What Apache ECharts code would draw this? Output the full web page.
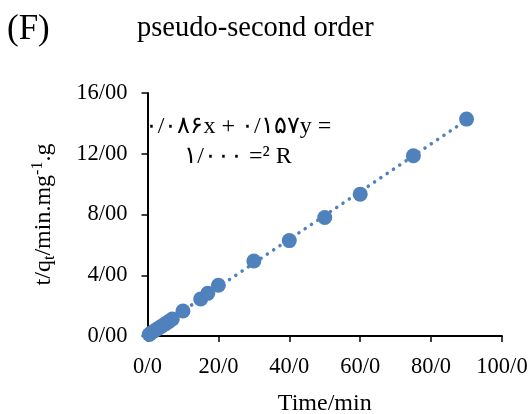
<!DOCTYPE html>
<html><head><meta charset="utf-8">
<script src="https://cdn.jsdelivr.net/npm/echarts@6/dist/echarts.min.js"></script>
<style>html,body{margin:0;padding:0;background:#fff}#c{width:531px;height:414px}</style>
</head><body><div id="c"></div>
<script>
var timeMin = [0.5, 1, 2, 3, 4, 5, 6, 7, 10, 15, 17, 20, 30, 40, 50, 60, 75, 90];
var tOverQ = [0.1, 0.2, 0.35, 0.5, 0.65, 0.8, 0.95, 1.12, 1.65, 2.44, 2.81, 3.34, 4.94, 6.28, 7.80, 9.34, 11.87, 14.28];
var trendCoef = [0.157, 0.086]; // slope, intercept
var trendRange = [0, 90];
var xTickLabels = ['0/0', '20/0', '40/0', '60/0', '80/0', '100/0'];
var yTickLabels = ['0/00', '4/00', '8/00', '12/00', '16/00'];
var eqLine1 = '۰/۰۸۶x + ۰/۱۵۷y =';
var eqLine2 = '۱/۰۰۰ =² R';

var FONT = '"Liberation Serif","Times New Roman",serif';
var COLOR = '#4f81bd';
var pts = timeMin.map(function (t, i) { return [t, tOverQ[i]]; });
var trend = trendRange.map(function (x) { return [x, trendCoef[0] * x + trendCoef[1]]; });

var chart = echarts.init(document.getElementById('c'), null, {renderer: 'canvas'});
chart.setOption({
  animation: false,
  backgroundColor: '#fff',
  grid: {left: 147.5, right: 29, top: 93, bottom: 78, containLabel: false, outerBoundsMode: 'none'},
  xAxis: {
    type: 'value', min: 0, max: 100, interval: 20,
    name: 'Time/min', nameLocation: 'middle', nameGap: 56,
    nameTextStyle: {fontFamily: FONT, fontSize: 24, color: '#000'},
    axisLine: {lineStyle: {color: '#000', width: 2}},
    axisTick: {show: true, length: 6, lineStyle: {color: '#000', width: 1.5}},
    axisLabel: {fontFamily: FONT, fontSize: 22.5, color: '#000', margin: 20,
      formatter: function (v) { return xTickLabels[Math.round(v / 20)]; }},
    splitLine: {show: false}
  },
  yAxis: {
    type: 'value', min: 0, max: 16, interval: 4,
    name: '{a|t/q}{s|t}{a|/min.mg}{p|-1}{a|.g}', nameLocation: 'middle', nameGap: 90, nameRotate: 90,
    nameTextStyle: {fontFamily: FONT, fontSize: 24, color: '#000',
      rich: {
        a: {fontFamily: FONT, fontSize: 24, color: '#000', lineHeight: 28, verticalAlign: 'middle'},
        s: {fontFamily: FONT, fontSize: 16, color: '#000', lineHeight: 28, verticalAlign: 'bottom'},
        p: {fontFamily: FONT, fontSize: 16, color: '#000', lineHeight: 28, verticalAlign: 'top'}
      }},
    axisLine: {show: true, lineStyle: {color: '#000', width: 2}},
    axisTick: {show: true, length: 6, lineStyle: {color: '#000', width: 1.5}},
    axisLabel: {fontFamily: FONT, fontSize: 22.5, color: '#000', margin: 20,
      formatter: function (v) { return yTickLabels[Math.round(v / 4)]; }},
    splitLine: {show: false}
  },
  graphic: [
    {type: 'text', style: {text: '(F)', x: 7, y: 12, verticalAlign: 'top', font: '35px ' + FONT, fill: '#000'}},
    {type: 'text', style: {text: 'pseudo-second order', x: 137, y: 14, verticalAlign: 'top', font: '28.5px ' + FONT, fill: '#000'}},
    {type: 'text', style: {text: eqLine1, x: 238, y: 127, align: 'center', verticalAlign: 'middle', font: '24px ' + FONT, fill: '#000'}},
    {type: 'text', style: {text: eqLine2, x: 238, y: 157, align: 'center', verticalAlign: 'middle', font: '24px ' + FONT, fill: '#000'}}
  ],
  series: [
    {type: 'line', data: trend, symbol: 'none', silent: true, z: 1,
     lineStyle: {color: COLOR, width: 3.5, type: [0.1, 7.5], cap: 'round'}},
    {type: 'scatter', data: pts, symbol: 'circle', symbolSize: 15, z: 2,
     itemStyle: {color: COLOR, opacity: 1}}
  ]
});
</script></body></html>
